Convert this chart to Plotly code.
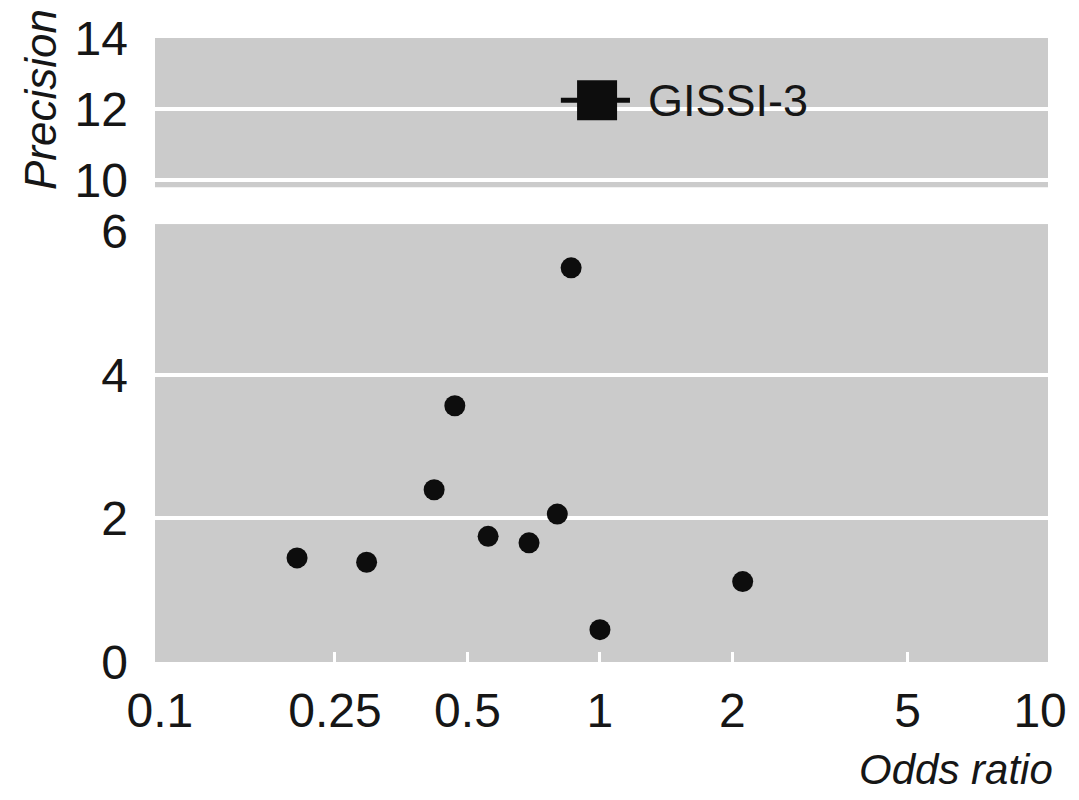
import numpy as np
import plotly.graph_objects as go

# ---- data ----
trial_or = [0.205, 0.295, 0.42, 0.468, 0.557, 0.69, 0.80, 0.86, 1.0, 2.11]
trial_precision = [1.45, 1.39, 2.40, 3.57, 1.75, 1.66, 2.06, 5.49, 0.45, 1.12]

gissi_name = "GISSI-3"
gissi_or = 0.985
gissi_ci_low = 0.815
gissi_ci_high = 1.17
gissi_precision = 12.25

x_tickvals = [0.1, 0.25, 0.5, 1, 2, 5, 10]
x_ticktext = ["0.1", "0.25", "0.5", "1", "2", "5", "10"]
x_inner_ticks = [0.25, 0.5, 1, 2, 5]
y_low_ticks = [0, 2, 4, 6]
y_high_ticks = [10, 12, 14]

FONT = "Liberation Sans Narrow, Arial Narrow, Liberation Sans, Arial, sans-serif"
BG = "#cbcbcb"
INK = "#161616"
TICK_SIZE = 48

fig = go.Figure()

fig.add_trace(go.Scatter(
    x=trial_or, y=trial_precision, mode="markers",
    marker=dict(symbol="circle", size=21, color="#0d0d0d"),
    xaxis="x", yaxis="y", showlegend=False,
))

fig.add_trace(go.Scatter(
    x=[gissi_or], y=[gissi_precision], mode="markers",
    marker=dict(symbol="square", size=40, color="#0d0d0d"),
    error_x=dict(type="data", symmetric=False,
                 array=[gissi_ci_high - gissi_or],
                 arrayminus=[gissi_or - gissi_ci_low],
                 color="#0d0d0d", thickness=5, width=0),
    xaxis="x2", yaxis="y2", showlegend=False,
))

fig.add_annotation(
    x=np.log10(gissi_ci_high), y=gissi_precision, xref="x2", yref="y2",
    text=gissi_name, showarrow=False, xanchor="left", yanchor="middle",
    xshift=16, font=dict(family=FONT, size=45, color=INK),
)

xrange = [np.log10(0.1) - 0.011, np.log10(10) + 0.018]
common_x = dict(type="log", range=xrange, showgrid=False, zeroline=False,
                showline=False)

fig.update_layout(
    width=1079, height=800,
    margin=dict(l=155, r=31, t=35, b=138),
    paper_bgcolor="white",
    plot_bgcolor=BG,
    font=dict(family=FONT, size=TICK_SIZE, color=INK),
    xaxis=dict(**common_x, anchor="y", domain=[0, 1],
               tickmode="array", tickvals=x_tickvals, ticktext=x_ticktext,
               ticks="", ticklabelstandoff=16,
               tickfont=dict(family=FONT, size=TICK_SIZE, color=INK),
               minor=dict(tickmode="array", tickvals=x_inner_ticks,
                          ticks="inside", ticklen=10, tickwidth=3,
                          tickcolor="white", showgrid=False)),
    xaxis2=dict(**common_x, anchor="y2", matches="x", domain=[0, 1],
                showticklabels=False, ticks=""),
    yaxis=dict(domain=[0, 0.7018], range=[0, 6.1], anchor="x",
               tickmode="array", tickvals=y_low_ticks,
               showgrid=False, zeroline=False, showline=False,
               ticks="", ticklabelstandoff=26,
               tickfont=dict(family=FONT, size=TICK_SIZE, color=INK),
               minor=dict(tickmode="array", tickvals=[2, 4], showgrid=True,
                          gridcolor="white", gridwidth=4, ticks="")),
    yaxis2=dict(domain=[0.7608, 1], range=[9.8, 14], anchor="x2",
                tickmode="array", tickvals=y_high_ticks,
                showgrid=False, zeroline=False, showline=False,
                ticks="", ticklabelstandoff=26,
                tickfont=dict(family=FONT, size=TICK_SIZE, color=INK),
                minor=dict(tickmode="array", tickvals=[10, 12], showgrid=True,
                           gridcolor="white", gridwidth=4, ticks="")),
)

fig.add_annotation(
    text="<i>Precision</i>", xref="paper", yref="paper",
    x=-0.128, y=1.05, xanchor="center", yanchor="top", textangle=-90,
    showarrow=False, font=dict(family=FONT, size=44, color=INK),
)
fig.add_annotation(
    text="<i>Odds ratio</i>", xref="paper", yref="paper",
    x=1.008, y=-0.132, xanchor="right", yanchor="top",
    showarrow=False, font=dict(family=FONT, size=42, color=INK),
)

fig.write_html("out.html")
